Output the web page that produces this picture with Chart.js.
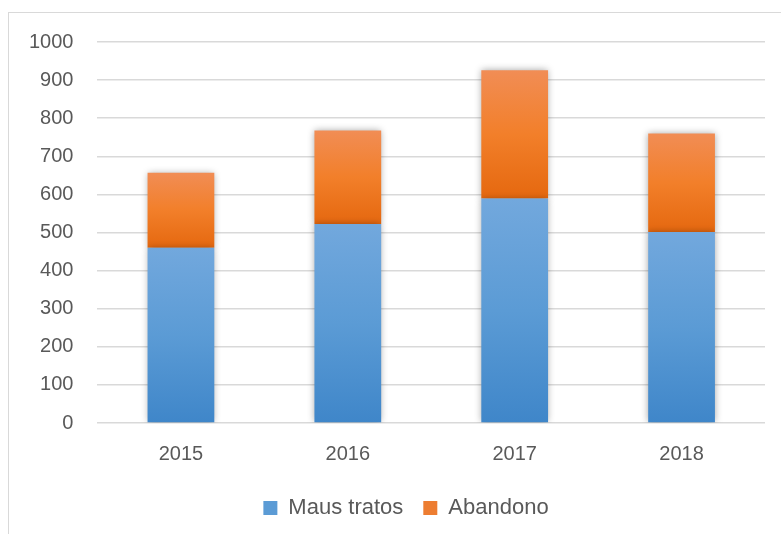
<!DOCTYPE html>
<html>
<head>
<meta charset="utf-8">
<script src="https://cdn.jsdelivr.net/npm/chart.js@4"></script>
<style>
  html, body { margin: 0; padding: 0; background: #fff; }
</style>
</head>
<body>
<canvas id="grafico" width="781" height="534"></canvas>
<script>
// Dados do gráfico
const anos = ['2015', '2016', '2017', '2018'];
const mausTratos = [460, 522, 589, 501];
const abandono = [197, 246, 337, 259];
const ticksY = [0, 100, 200, 300, 400, 500, 600, 700, 800, 900, 1000];
const coresLegenda = ['#5b9bd5', '#ed7d31'];

// Gradiente vertical para cada segmento da barra
function gradiente(context, topo, meio, fundo) {
    const chart = context.chart;
    const y = chart.scales.y;
    if (!y || context.dataIndex === undefined) return meio;
    const i = context.dataIndex;
    let v0 = 0, v1;
    if (context.datasetIndex === 0) {
        v1 = mausTratos[i];
    } else {
        v0 = mausTratos[i];
        v1 = mausTratos[i] + abandono[i];
    }
    const yTop = y.getPixelForValue(v1);
    const yBot = y.getPixelForValue(v0);
    if (!isFinite(yTop) || !isFinite(yBot) || yTop === yBot) return meio;
    const g = chart.ctx.createLinearGradient(0, yTop, 0, yBot);
    g.addColorStop(0, topo);
    g.addColorStop(0.5, meio);
    g.addColorStop(1, fundo);
    return g;
}

// Moldura, sombra das barras e posição da legenda
const moldura = {
    id: 'moldura',
    afterLayout(chart) {
        // centraliza a legenda na moldura, como no original
        chart.legend.left += 42;
    },
    beforeDraw(chart) {
        const ctx = chart.ctx;
        ctx.save();
        ctx.strokeStyle = '#d9d9d9';
        ctx.lineWidth = 1;
        ctx.strokeRect(8.5, 12.5, 800, 600);
        ctx.restore();
    },
    beforeDatasetsDraw(chart) {
        const ctx = chart.ctx;
        ctx.save();
        ctx.shadowColor = 'rgba(0,0,0,0.35)';
        ctx.shadowBlur = 7;
    },
    afterDatasetsDraw(chart) {
        chart.ctx.restore();
    }
};

const ctx = document.getElementById('grafico').getContext('2d');
new Chart(ctx, {
    type: 'bar',
    data: {
        labels: anos,
        datasets: [
            {
                label: 'Maus tratos',
                data: mausTratos,
                backgroundColor: c => c.type === 'data' ? gradiente(c, '#72a8dd', '#5b9bd5', '#3f86c9') : '#5b9bd5',
                borderWidth: 0,
                categoryPercentage: 0.8,
                barPercentage: 0.5
            },
            {
                label: 'Abandono',
                data: abandono,
                backgroundColor: c => c.type === 'data' ? gradiente(c, '#f18d55', '#f27f2a', '#e5680f') : '#ed7d31',
                borderWidth: 0,
                categoryPercentage: 0.8,
                barPercentage: 0.5
            }
        ]
    },
    options: {
        responsive: false,
        animation: false,
        devicePixelRatio: 1,
        layout: { padding: { left: 5, right: 16, top: 42, bottom: 5 } },
        scales: {
            x: {
                stacked: true,
                grid: { display: false },
                border: { display: false },
                ticks: { color: '#595959', font: { family: 'Liberation Sans', size: 20 }, padding: 11 }
            },
            y: {
                stacked: true,
                min: 0,
                max: 1000,
                afterBuildTicks: axis => { axis.ticks = ticksY.map(v => ({ value: v })); },
                grid: { color: '#d9d9d9', lineWidth: 1.5, drawTicks: false },
                border: { display: false },
                ticks: {
                    color: '#595959',
                    font: { family: 'Liberation Sans', size: 20 },
                    padding: 24,
                    callback: v => String(v)
                }
            }
        },
        plugins: {
            legend: {
                position: 'bottom',
                labels: {
                    color: '#595959',
                    font: { family: 'Liberation Sans', size: 22 },
                    boxWidth: 14,
                    boxHeight: 14,
                    padding: 20,
                    generateLabels: chart => chart.data.datasets.map((ds, i) => ({
                        text: ds.label,
                        fillStyle: coresLegenda[i],
                        strokeStyle: coresLegenda[i],
                        lineWidth: 0,
                        fontColor: '#595959',
                        datasetIndex: i,
                        hidden: false
                    }))
                }
            },
            tooltip: { enabled: false }
        }
    },
    plugins: [moldura]
});
</script>
</body>
</html>
